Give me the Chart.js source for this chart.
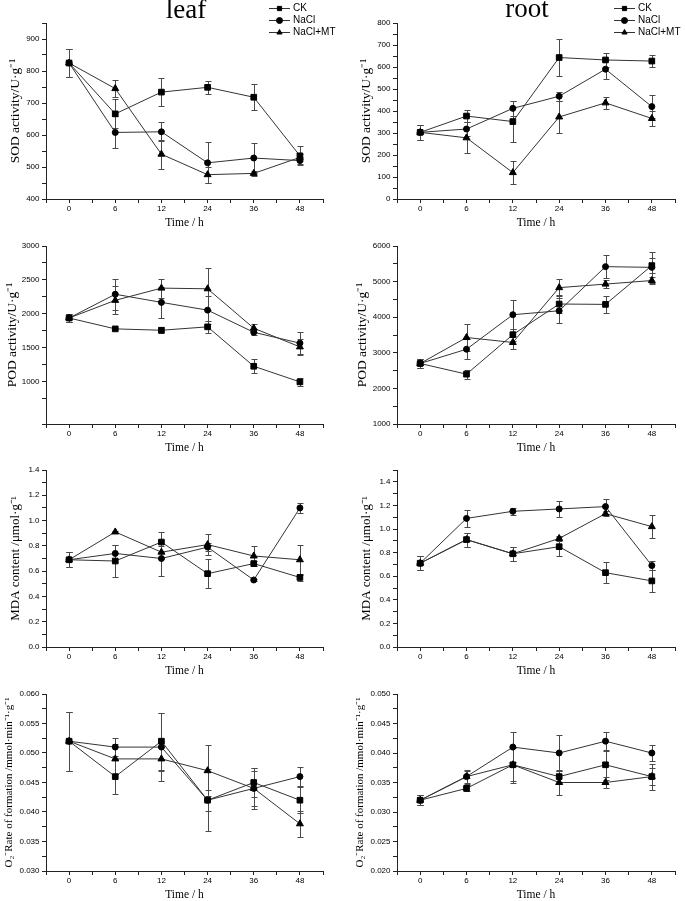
<!DOCTYPE html>
<html>
<head>
<meta charset="utf-8">
<script src="https://cdn.jsdelivr.net/npm/chart.js@4"></script>
<style>
  body { margin: 0; background: #fff; overflow: hidden; }
  #wrap { position: relative; width: 685px; height: 901px; }
  #wrap canvas { position: absolute; }
</style>
</head>
<body>
<div id="wrap"></div>
<script>
const times = ['0', '6', '12', '24', '36', '48'];
const seriesNames = ['CK', 'NaCl', 'NaCl+MT'];

// leaf SOD
const leafSodCK = [825, 666, 734, 749, 718, 535];
const leafSodCKErr = [43, 45, 44, 20, 40, 30];
const leafSodNaCl = [825, 608, 610, 513, 528, 520];
const leafSodNaClErr = [43, 50, 30, 64, 47, 12];
const leafSodMT = [825, 745, 540, 476, 480, 530];
const leafSodMTErr = [43, 27, 45, 25, 8, 10];

// root SOD
const rootSodCK = [303, 377, 352, 643, 632, 627];
const rootSodCKErr = [33, 28, 93, 84, 32, 28];
const rootSodNaCl = [303, 318, 412, 467, 590, 420];
const rootSodNaClErr = [33, 30, 33, 20, 43, 53];
const rootSodMT = [303, 278, 120, 373, 437, 366];
const rootSodMTErr = [33, 70, 52, 73, 28, 33];

// leaf POD
const leafPodCK = [1940, 1780, 1760, 1810, 1230, 1000];
const leafPodCKErr = [65, 20, 45, 90, 100, 60];
const leafPodNaCl = [1940, 2290, 2170, 2056, 1730, 1570];
const leafPodNaClErr = [65, 225, 225, 210, 45, 170];
const leafPodMT = [1940, 2200, 2380, 2370, 1790, 1515];
const leafPodMTErr = [65, 205, 140, 310, 60, 110];

// root POD
const rootPodCK = [2700, 2400, 3510, 4370, 4360, 5450];
const rootPodCKErr = [130, 130, 170, 250, 240, 200];
const rootPodNaCl = [2700, 3100, 4070, 4180, 5420, 5400];
const rootPodNaClErr = [130, 280, 400, 350, 320, 440];
const rootPodMT = [2700, 3430, 3290, 4830, 4930, 5030];
const rootPodMTErr = [130, 370, 180, 230, 120, 100];

// leaf MDA
const leafMdaCK = [0.69, 0.68, 0.83, 0.58, 0.66, 0.55];
const leafMdaCKErr = [0.06, 0.13, 0.08, 0.115, 0.02, 0.03];
const leafMdaNaCl = [0.69, 0.74, 0.70, 0.79, 0.53, 1.10];
const leafMdaNaClErr = [0.06, 0.07, 0.14, 0.03, 0.01, 0.04];
const leafMdaMT = [0.69, 0.91, 0.75, 0.81, 0.72, 0.69];
const leafMdaMTErr = [0.06, 0.01, 0.05, 0.085, 0.08, 0.12];

// root MDA
const rootMdaCK = [0.71, 0.91, 0.79, 0.85, 0.63, 0.56];
const rootMdaCKErr = [0.06, 0.06, 0.06, 0.08, 0.09, 0.09];
const rootMdaNaCl = [0.71, 1.09, 1.15, 1.17, 1.19, 0.69];
const rootMdaNaClErr = [0.06, 0.07, 0.03, 0.07, 0.06, 0.04];
const rootMdaMT = [0.71, 0.91, 0.79, 0.92, 1.13, 1.02];
const rootMdaMTErr = [0.06, 0.06, 0.06, 0.02, 0.02, 0.10];

// leaf O2- rate
const leafO2CK = [0.052, 0.046, 0.052, 0.042, 0.045, 0.042];
const leafO2CKErr = [0.005, 0.003, 0.0048, 0.0053, 0.0025, 0.0022];
const leafO2NaCl = [0.052, 0.051, 0.051, 0.042, 0.044, 0.046];
const leafO2NaClErr = [0.005, 0.0015, 0.0058, 0.0018, 0.0035, 0.0016];
const leafO2MT = [0.052, 0.049, 0.049, 0.047, 0.044, 0.038];
const leafO2MTErr = [0.005, 0.0025, 0.002, 0.0043, 0.003, 0.0022];

// root O2- rate
const rootO2CK = [0.032, 0.034, 0.038, 0.036, 0.038, 0.036];
const rootO2CKErr = [0.0008, 0.0005, 0.003, 0.001, 0.0025, 0.0022];
const rootO2NaCl = [0.032, 0.036, 0.041, 0.040, 0.042, 0.040];
const rootO2NaClErr = [0.0008, 0.0012, 0.0025, 0.003, 0.0016, 0.0013];
const rootO2MT = [0.032, 0.036, 0.038, 0.035, 0.035, 0.036];
const rootO2MTErr = [0.0008, 0.001, 0.0028, 0.0022, 0.001, 0.0015];

const serif = "'Liberation Serif', 'Times New Roman', serif";
const sans = "'Liberation Sans', Arial, sans-serif";

// page layout: columns and rows of panels
const cols = [
  {left: 0, width: 340, axisW: 46, padR: 17},
  {left: 340, width: 345, axisW: 57, padR: 10}
];
const rows = [
  {top: 0, padT: 23, plotB: 199},
  {top: 225, padT: 21, plotB: 199},
  {top: 445, padT: 25, plotB: 202},
  {top: 665, padT: 29, plotB: 206}
];
const marks = [
  {pointStyle: 'rect', pointRadius: 4},
  {pointStyle: 'circle', pointRadius: 3},
  {pointStyle: 'triangle', pointRadius: 4}
];

const panels = [
  {col: 0, row: 0, yMin: 400, yMax: 950, yMinor: 50, yMajor: 100, dec: 0,
   yTitle: 'SOD activity/U·g⁻¹', titleSize: 13.5, titleX: 15,
   head: {text: 'leaf', x: 186, y: 18, legendX: 269},
   series: [[leafSodCK, leafSodCKErr], [leafSodNaCl, leafSodNaClErr], [leafSodMT, leafSodMTErr]]},
  {col: 1, row: 0, yMin: 0, yMax: 800, yMinor: 50, yMajor: 100, dec: 0,
   yTitle: 'SOD activity/U·g⁻¹', titleSize: 13.5, titleX: 26,
   head: {text: 'root', x: 187, y: 17, legendX: 274},
   series: [[rootSodCK, rootSodCKErr], [rootSodNaCl, rootSodNaClErr], [rootSodMT, rootSodMTErr]]},
  {col: 0, row: 1, yMin: 380, yMax: 3000, yMinor: 250, yMajor: 500, dec: 0,
   yTitle: 'POD activity/U·g⁻¹', titleSize: 13.5, titleX: 12,
   series: [[leafPodCK, leafPodCKErr], [leafPodNaCl, leafPodNaClErr], [leafPodMT, leafPodMTErr]]},
  {col: 1, row: 1, yMin: 1000, yMax: 6000, yMinor: 500, yMajor: 1000, dec: 0,
   yTitle: 'POD activity/U·g⁻¹', titleSize: 13.5, titleX: 22,
   series: [[rootPodCK, rootPodCKErr], [rootPodNaCl, rootPodNaClErr], [rootPodMT, rootPodMTErr]]},
  {col: 0, row: 2, yMin: 0, yMax: 1.4, yMinor: 0.1, yMajor: 0.2, dec: 1,
   yTitle: 'MDA content /μmol·g⁻¹', titleSize: 13, titleX: 16,
   series: [[leafMdaCK, leafMdaCKErr], [leafMdaNaCl, leafMdaNaClErr], [leafMdaMT, leafMdaMTErr]]},
  {col: 1, row: 2, yMin: 0, yMax: 1.5, yMinor: 0.1, yMajor: 0.2, dec: 1,
   yTitle: 'MDA content /μmol·g⁻¹', titleSize: 13, titleX: 27,
   series: [[rootMdaCK, rootMdaCKErr], [rootMdaNaCl, rootMdaNaClErr], [rootMdaMT, rootMdaMTErr]]},
  {col: 0, row: 3, yMin: 0.030, yMax: 0.060, yMinor: 0.0025, yMajor: 0.005, dec: 3,
   yTitle: 'O₂⁻Rate of formation /mmol·min⁻¹·g⁻¹', titleSize: 11, titleX: 9,
   series: [[leafO2CK, leafO2CKErr], [leafO2NaCl, leafO2NaClErr], [leafO2MT, leafO2MTErr]]},
  {col: 1, row: 3, yMin: 0.020, yMax: 0.050, yMinor: 0.0025, yMajor: 0.005, dec: 3,
   yTitle: 'O₂⁻Rate of formation /mmol·min⁻¹·g⁻¹', titleSize: 11, titleX: 20,
   series: [[rootO2CK, rootO2CKErr], [rootO2NaCl, rootO2NaClErr], [rootO2MT, rootO2MTErr]]}
];

function isMajor(v, major) {
  const r = v / major;
  return Math.abs(r - Math.round(r)) < 1e-6;
}

// error bars drawn under the lines and markers
const errorBars = {
  id: 'errorBars',
  beforeDatasetsDraw(chart) {
    const ctx = chart.ctx;
    const yScale = chart.scales.y;
    ctx.save();
    ctx.strokeStyle = '#4a4a4a';
    ctx.lineWidth = 1;
    chart.data.datasets.forEach((ds, i) => {
      const meta = chart.getDatasetMeta(i);
      meta.data.forEach((pt, j) => {
        const v = ds.data[j].y;
        const e = ds.errors[j];
        const top = Math.round(yScale.getPixelForValue(v + e)) + 0.5;
        const bot = Math.round(yScale.getPixelForValue(v - e)) + 0.5;
        const x = Math.round(pt.x) + 0.5;
        ctx.beginPath();
        ctx.moveTo(x, top); ctx.lineTo(x, bot);
        ctx.moveTo(x - 3, top); ctx.lineTo(x + 3, top);
        ctx.moveTo(x - 3, bot); ctx.lineTo(x + 3, bot);
        ctx.stroke();
      });
    });
    ctx.restore();
  }
};

// big panel title and the small legend in the top row
const panelHead = {
  id: 'panelHead',
  afterDraw(chart, args, opts) {
    if (!opts.text) return;
    const ctx = chart.ctx;
    ctx.save();
    ctx.fillStyle = '#000';
    ctx.font = '27px ' + serif;
    ctx.textAlign = 'center';
    ctx.textBaseline = 'alphabetic';
    ctx.fillText(opts.text, opts.x, opts.y);

    const rowY = [8, 20, 32];
    ctx.font = '10px ' + sans;
    ctx.textAlign = 'left';
    ctx.textBaseline = 'middle';
    chart.data.datasets.forEach((ds, i) => {
      const y = rowY[i] + 0.5;
      ctx.strokeStyle = '#333';
      ctx.lineWidth = 1;
      ctx.beginPath();
      ctx.moveTo(opts.legendX, y);
      ctx.lineTo(opts.legendX + 21, y);
      ctx.stroke();
      ctx.fillStyle = '#000';
      ctx.strokeStyle = '#000';
      Chart.helpers.drawPoint(ctx, {pointStyle: ds.pointStyle, radius: 3, rotation: 0, borderWidth: 1},
        opts.legendX + 10.5, y);
      ctx.fillStyle = '#000';
      ctx.fillText(ds.label, opts.legendX + 24, y);
    });
    ctx.restore();
  }
};

function makeChart(p) {
  const col = cols[p.col];
  const row = rows[p.row];
  const canvas = document.createElement('canvas');
  canvas.width = col.width;
  canvas.height = row.plotB + 32;
  canvas.style.left = col.left + 'px';
  canvas.style.top = row.top + 'px';
  document.getElementById('wrap').appendChild(canvas);

  const datasets = p.series.map((s, i) => ({
    label: seriesNames[i],
    data: s[0].map((v, k) => ({x: k, y: v})),
    errors: s[1],
    borderColor: '#333',
    borderWidth: 1,
    pointStyle: marks[i].pointStyle,
    pointRadius: marks[i].pointRadius,
    pointBackgroundColor: '#000',
    pointBorderColor: '#000',
    pointBorderWidth: 1,
    tension: 0,
    fill: false
  }));

  new Chart(canvas, {
    type: 'line',
    data: {datasets: datasets},
    plugins: [errorBars, panelHead],
    options: {
      responsive: false,
      animation: false,
      events: [],
      layout: {padding: {left: 0, right: col.padR, top: row.padT, bottom: 0}},
      plugins: {
        legend: {display: false},
        tooltip: {enabled: false},
        panelHead: p.head || {}
      },
      scales: {
        x: {
          type: 'linear',
          min: -0.5,
          max: 5.5,
          afterFit: s => { s.height = 32; },
          border: {display: true, color: '#222', width: 1},
          grid: {drawOnChartArea: false, tickLength: 4, color: '#222'},
          ticks: {
            stepSize: 0.5, autoSkip: false, maxRotation: 0, maxTicksLimit: 100, padding: 1,
            color: '#000', font: {family: sans, size: 8},
            callback: v => Number.isInteger(v) && times[v] !== undefined ? times[v] : ''
          },
          title: {display: true, text: 'Time / h', color: '#000',
            font: {family: serif, size: 11.5}, padding: {top: 0, bottom: 1}}
        },
        y: {
          type: 'linear',
          min: p.yMin,
          max: p.yMax,
          afterFit: s => { s.width = col.axisW; },
          border: {display: true, color: '#222', width: 1},
          grid: {drawOnChartArea: false, tickLength: 4, color: '#222'},
          ticks: {
            stepSize: p.yMinor, autoSkip: false, maxTicksLimit: 100, padding: 2.5,
            color: '#000', font: {family: sans, size: 8},
            callback: v => isMajor(v, p.yMajor) ? Number(v).toFixed(p.dec) : ''
          },
          title: {display: true, text: p.yTitle, color: '#000',
            font: {family: serif, size: p.titleSize},
            padding: {top: p.titleX - p.titleSize * 0.6, bottom: 0}}
        }
      }
    }
  });
}

panels.forEach(makeChart);
</script>
</body>
</html>
